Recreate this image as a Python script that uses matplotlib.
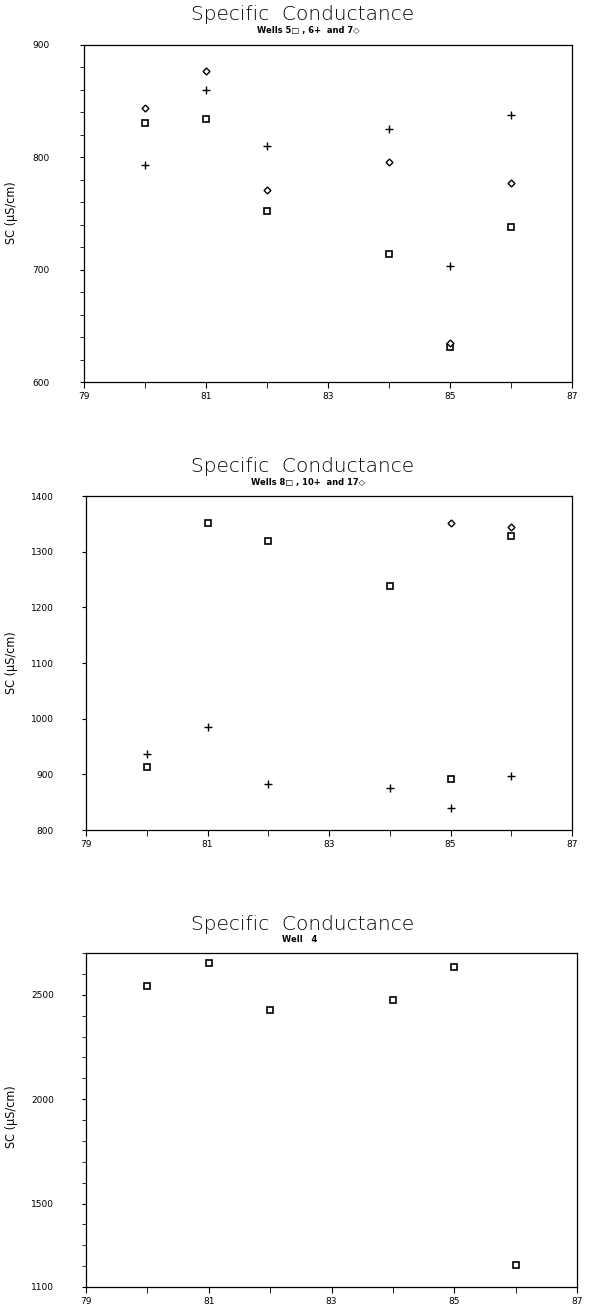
import matplotlib
matplotlib.use("Agg")
import matplotlib.pyplot as plt
from matplotlib.ticker import MultipleLocator, FixedLocator

years = [80, 81, 82, 84, 85, 86]

# Panel 1: Wells 5 (square), 6 (plus), 7 (diamond)
w5 = [831, 834, 752, 714, 631, 738]
w6 = [793, 860, 810, 825, 703, 838]
w7 = [844, 877, 771, 796, 635, 777]

# Panel 2: Wells 8 (square), 10 (plus), 17 (diamond)
w8_years = [80, 81, 82, 84, 85, 86]
w8 = [914, 1351, 1319, 1238, 891, 1329]
w10_years = [80, 81, 82, 84, 85, 86]
w10 = [936, 985, 882, 876, 839, 897]
w17_years = [85, 86]
w17 = [1351, 1345]

# Panel 3: Well 4 (square)
w4 = [2543, 2652, 2426, 2474, 2634, 1207]

xticks_major = [79, 81, 83, 85, 87]
xticklabels = ["79", "81", "83", "85", "87"]

W, H = 615, 1316
fig = plt.figure(figsize=(W / 100, H / 100), dpi=100)


def ax_px(l, t, r, b):
    return fig.add_axes([l / W, 1 - b / H, (r - l) / W, (b - t) / H])


def style(ax, ylim, major, minor, ylabels, pad):
    ax.set_xlim(79, 87)
    ax.set_ylim(*ylim)
    ax.xaxis.set_major_locator(FixedLocator(xticks_major))
    ax.xaxis.set_minor_locator(MultipleLocator(1))
    ax.set_xticklabels(xticklabels)
    ax.yaxis.set_major_locator(FixedLocator(major))
    ax.set_yticklabels(ylabels)
    if minor:
        ax.yaxis.set_minor_locator(MultipleLocator(minor))
    ax.tick_params(axis="both", which="both", direction="out", colors="black",
                   labelsize=6.5)
    ax.tick_params(axis="x", which="both", length=4, pad=3)
    ax.tick_params(axis="y", which="both", length=3, pad=pad)
    for s in ax.spines.values():
        s.set_linewidth(0.9)


mk = dict(linestyle="none", color="black")

# Panel 1
ax1 = ax_px(84, 45, 572, 382)
ax1.plot(years, w5, marker="s", markersize=5, markerfacecolor="white",
         markeredgewidth=1.2, **mk)
ax1.plot(years, w6, marker="+", markersize=6, markeredgewidth=1.0, **mk)
ax1.plot(years, w7, marker="D", markersize=3.5, markerfacecolor="white",
         markeredgewidth=1.0, **mk)
style(ax1, (600, 900), [600, 700, 800, 900], 20,
      ["600", "700", "800", "900"], 22)

# Panel 2
ax2 = ax_px(86, 496, 572, 830)
ax2.plot(w8_years, w8, marker="s", markersize=5, markerfacecolor="white",
         markeredgewidth=1.2, **mk)
ax2.plot(w10_years, w10, marker="+", markersize=6, markeredgewidth=1.0, **mk)
ax2.plot(w17_years, w17, marker="D", markersize=3.5, markerfacecolor="white",
         markeredgewidth=1.0, **mk)
style(ax2, (800, 1400), list(range(800, 1401, 100)), None,
      [str(v) for v in range(800, 1401, 100)], 20)

# Panel 3
ax3 = ax_px(86, 953, 577, 1287)
ax3.plot(years, w4, marker="s", markersize=5, markerfacecolor="white",
         markeredgewidth=1.2, **mk)
style(ax3, (1100, 2700), [1100, 1500, 2000, 2500], 100,
      ["1100", "1500", "2000", "2500"], 20)


def ftext(x, y, s, **kw):
    fig.text(x / W, 1 - y / H, s, ha="center", va="center", **kw)

title_kw = dict(fontsize=14.5, color="black", fontweight="light")
sub_kw = dict(fontsize=6, color="black", fontweight="bold")

ftext(303, 15, "Specific  Conductance", **title_kw)
ftext(308, 31, "Wells 5\u25a1 , 6+  and 7\u25c7", **sub_kw)
ftext(303, 466, "Specific  Conductance", **title_kw)
ftext(308, 482, "Wells 8\u25a1 , 10+  and 17\u25c7", **sub_kw)
ftext(303, 925, "Specific  Conductance", **title_kw)
ftext(300, 939, "Well   4", **sub_kw)

ylab_kw = dict(fontsize=9, rotation=90, color="black",
               family="DejaVu Sans", fontstretch="condensed")
ftext(12, 213, "SC (\u03bcS/cm)", **ylab_kw)
ftext(12, 663, "SC (\u03bcS/cm)", **ylab_kw)
ftext(12, 1117, "SC (\u03bcS/cm)", **ylab_kw)

fig.savefig("out.png", dpi=100, facecolor="white")
